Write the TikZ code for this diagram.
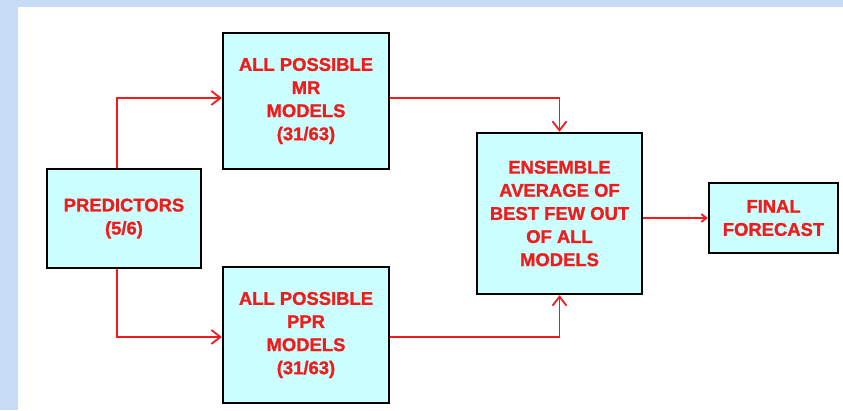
\documentclass[tikz,border=0pt]{standalone}
\usepackage{fontspec}
\setmainfont{Liberation Sans}[BoldFeatures={FakeBold=1.2}]
\usetikzlibrary{arrows.meta}
\definecolor{slideblue}{RGB}{198,221,245}
\definecolor{boxfill}{RGB}{204,255,255}
\definecolor{flowred}{RGB}{240,28,28}
\tikzset{
  block/.style={draw=black, line width=2.4bp, fill=boxfill, inner sep=0pt,
    align=center, text=flowred, font=\bfseries\fontsize{18.5}{23.2}\selectfont},
  flow/.style={draw=flowred, line width=1.9bp,
    -{Straight Barb[length=9bp,width=14bp,line width=1.8bp]}},
  flowsmall/.style={draw=flowred, line width=1.9bp,
    -{Straight Barb[length=5bp,width=8bp,line width=1.8bp]}}
}
\begin{document}
\begin{tikzpicture}[x=1bp, y=-1bp]
  % slide background
  \useasboundingbox (0,0) rectangle (843,410);
  \fill[slideblue] (0,0) rectangle (843,410);
  \fill[white] (18,7) rectangle (843,410);

  % blocks
  \node[block, minimum width=154bp, minimum height=99bp] (pred) at (124,218.5)
    {PREDICTORS\\(5/6)};
  \node[block, minimum width=166bp, minimum height=136bp] (mr) at (306,101)
    {ALL POSSIBLE\\MR\\MODELS\\(31/63)};
  \node[block, minimum width=166bp, minimum height=136bp] (ppr) at (306,335)
    {ALL POSSIBLE\\PPR\\MODELS\\(31/63)};
  \node[block, minimum width=165bp, minimum height=161bp] (ens) at (559.5,213.5)
    {ENSEMBLE\\AVERAGE OF\\BEST FEW OUT\\OF ALL\\MODELS};
  \node[block, minimum width=129bp, minimum height=70bp] (fin) at (773.5,218)
    {FINAL\\FORECAST};

  % connectors
  \draw[flow] ([xshift=-7bp]pred.north) |- ([yshift=3bp]mr.west);
  \draw[flow] ([xshift=-7bp]pred.south) |- ([yshift=-2bp]ppr.west);
  \draw[flow] ([yshift=3bp]mr.east) -| (ens.north);
  \draw[flow] ([yshift=-2bp]ppr.east) -| (ens.south);
  \draw[flowsmall] (ens.east |- fin.west) -- (fin.west);
\end{tikzpicture}
\end{document}
